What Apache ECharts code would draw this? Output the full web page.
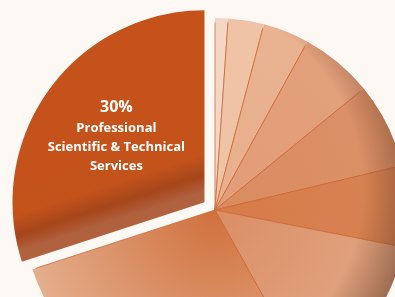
<!DOCTYPE html>
<html>
<head>
<meta charset="utf-8">
<style>
  html, body { margin: 0; padding: 0; background: #fcf9f5; }
  #container { width: 395px; height: 297px; }
</style>
<script src="https://cdn.jsdelivr.net/npm/echarts@6/dist/echarts.min.js"></script>
</head>
<body>
<div id="container"></div>
<script>
// slices clockwise from 12 o'clock, the exploded one last
var sectors = ['Sector 1', 'Sector 2', 'Sector 3', 'Sector 4', 'Sector 5',
    'Sector 6', 'Sector 7', 'Sector 8', 'Professional Scientific & Technical Services'];
var shares = [1.1, 3.0, 3.9, 6.1, 7.2, 6.8, 13.8, 28.1, 30];
var highlightLabel = ['30%', 'Professional', 'Scientific & Technical', 'Services'];

// inner / outer colour of each slice
var innerColors = ['#f3d6c4', '#eec3a6', '#e8b08d', '#e19d77', '#da8b60', '#d67b4a', '#da8e64', '#d0703c', '#c4521a'];
var outerColors = ['#f3d6c4', '#eec3a6', '#e9b290', '#e2a07b', '#dc9168', '#d98352', '#e2a684', '#e4ae8c', '#c4521a'];

var cx = 215, cy = 210, R = 192;

function sliceColor(i) {
    if (i == shares.length - 1) {
        // exploded slice: darker band along its lower edge
        return {
            type: 'linear', global: true,
            x: 183, y: 136, x2: 204.5, y2: 202.4,
            colorStops: [
                { offset: 0, color: '#c4521a' },
                { offset: 0.5, color: '#c3521b' },
                { offset: 0.78, color: '#a6461b' },
                { offset: 0.92, color: '#ad5631' },
                { offset: 1, color: '#b0623f' }
            ]
        };
    }
    return {
        type: 'radial', global: true,
        x: cx, y: cy, r: R,
        colorStops: [
            { offset: 0, color: innerColors[i] },
            { offset: 1, color: outerColors[i] }
        ]
    };
}

// divider lines fade out before the rim so no outline shows on the arc
var dividerColor = {
    type: 'radial', global: true,
    x: cx, y: cy, r: R,
    colorStops: [
        { offset: 0, color: 'rgba(205,100,50,0.75)' },
        { offset: 0.97, color: 'rgba(205,100,50,0.75)' },
        { offset: 0.985, color: 'rgba(205,100,50,0)' },
        { offset: 1, color: 'rgba(205,100,50,0)' }
    ]
};

var mainData = [];
var shadeData = [];
for (var i = 0; i < shares.length; i++) {
    var last = i == shares.length - 1;
    mainData.push({
        name: sectors[i],
        value: shares[i],
        selected: last,
        itemStyle: {
            color: sliceColor(i),
            borderWidth: last ? 0 : 1,
            borderColor: dividerColor
        },
        label: {
            show: last,
            formatter: '{p|' + highlightLabel[0] + '}\n' +
                highlightLabel.slice(1).map(function (t) { return '{t|' + t + '}'; }).join('\n')
        }
    });
    shadeData.push({
        name: sectors[i],
        value: shares[i],
        itemStyle: {
            color: last ? 'rgba(0,0,0,0)' : {
                type: 'radial', global: true,
                x: 172, y: 188, r: 238,
                colorStops: [
                    { offset: 0, color: 'rgba(95,55,35,0)' },
                    { offset: 0.8, color: 'rgba(95,55,35,0)' },
                    { offset: 1, color: 'rgba(95,55,35,0.5)' }
                ]
            }
        }
    });
}

var dom = document.getElementById('container');
var myChart = echarts.init(dom);
var option = {
    backgroundColor: '#fcf9f5',
    animation: false,
    series: [
        {
            type: 'pie',
            center: [cx, cy],
            radius: [0, R],
            startAngle: 90,
            clockwise: true,
            selectedMode: 'single',
            selectedOffset: 13,
            avoidLabelOverlap: false,
            emphasis: { disabled: true },
            label: {
                position: 'inside',
                color: '#fff',
                rich: {
                    p: { fontFamily: 'Open Sans', fontWeight: 'bold', fontSize: 16, color: '#fff', lineHeight: 22 },
                    t: { fontFamily: 'Open Sans', fontWeight: 'bold', fontSize: 13, color: '#fff', lineHeight: 19 }
                }
            },
            labelLayout: { dx: -8, dy: -8 },
            labelLine: { show: false },
            data: mainData
        },
        {
            type: 'pie',
            silent: true,
            center: [cx, cy],
            radius: [0, R],
            startAngle: 90,
            clockwise: true,
            label: { show: false },
            labelLine: { show: false },
            emphasis: { disabled: true },
            data: shadeData
        }
    ]
};
myChart.setOption(option);
</script>
</body>
</html>
